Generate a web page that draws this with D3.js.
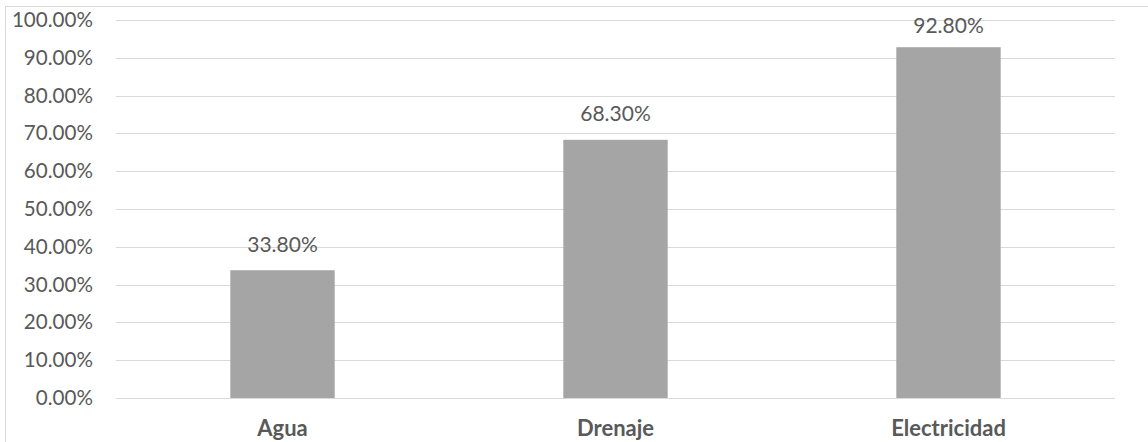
<!DOCTYPE html>
<html><head><meta charset="utf-8">
<script src="https://cdn.jsdelivr.net/npm/d3@7"></script>
<style>
body{margin:0;background:#fff;}
svg{display:block;}
text{font-family:Lato,"Open Sans",sans-serif;fill:#595959;}
</style></head>
<body><svg id="c" width="1148" height="442"></svg>
<script>
const categories = ["Agua","Drenaje","Electricidad"];
const values = [0.338, 0.683, 0.928];
const valueLabels = ["33.80%","68.30%","92.80%"];
const yTicks = [0,0.1,0.2,0.3,0.4,0.5,0.6,0.7,0.8,0.9,1.0];

(function(){
const svg = d3.select("#c");
const W = 1148, H = 442;
const mLeft = 116, mRight = 1115, mTop = 20, mBottom = 398;

// outer chart border
svg.append("rect").attr("x",5.5).attr("y",6.5).attr("width",W+10).attr("height",H+10)
  .attr("fill","none").attr("stroke","#d9d9d9").attr("stroke-width",1);

const x = d3.scaleBand().domain(categories).range([mLeft,mRight]).padding(0);
const y = d3.scaleLinear().domain([0,1]).range([mBottom,mTop]);

// gridlines
svg.append("g").selectAll("line").data(yTicks).join("line")
  .attr("x1",mLeft).attr("x2",mRight)
  .attr("y1",d=>Math.round(y(d))+0.5).attr("y2",d=>Math.round(y(d))+0.5)
  .attr("stroke","#d9d9d9").attr("stroke-width",1);

// y axis labels
const yAxis = d3.axisLeft(y).tickValues(yTicks).tickFormat(d3.format(".2%")).tickSize(0).tickPadding(0);
const gy = svg.append("g").attr("transform",`translate(93,0)`).call(yAxis);
gy.select(".domain").remove();
gy.selectAll("text").style("font-family","Lato, 'Open Sans', sans-serif").style("font-size","20.6px").attr("fill","#595959");

// bars
const bw = x.bandwidth()/3.19;
svg.append("g").selectAll("rect").data(values).join("rect")
  .attr("x",(d,i)=>x(categories[i])+x.bandwidth()/2-bw/2)
  .attr("width",bw)
  .attr("y",d=>y(d))
  .attr("height",d=>y(0)-y(d))
  .attr("fill","#a5a5a5");

// value labels
svg.append("g").selectAll("text").data(values).join("text")
  .attr("x",(d,i)=>x(categories[i])+x.bandwidth()/2)
  .attr("y",d=>Math.max(y(d)-18.5, mTop+13))
  .attr("text-anchor","middle")
  .style("font-size","21px")
  .text((d,i)=>valueLabels[i]);

// category labels
const xAxis = d3.axisBottom(x).tickSize(0).tickPadding(0);
const gx = svg.append("g").attr("transform",`translate(0,${mBottom})`).call(xAxis);
gx.select(".domain").remove();
gx.selectAll("text").attr("y",38).attr("dy","0")
  .style("font-family","Lato, 'Open Sans', sans-serif").style("font-size","22px").style("font-weight","bold").attr("fill","#595959");
})();
</script></body></html>
